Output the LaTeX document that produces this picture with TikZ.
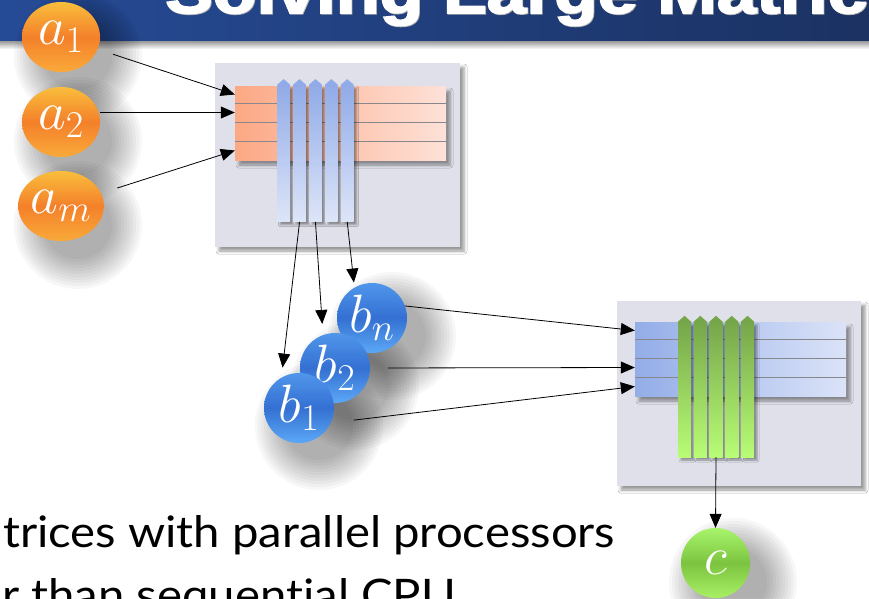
\RequirePackage{fix-cm}
\documentclass[tikz,border=0pt]{standalone}
\usepackage{fontspec}
\usepackage{graphicx}
\usetikzlibrary{shapes.geometric,shadows.blur,arrows.meta,calc}
\newfontfamily\titlefont{Liberation Sans}[FakeBold=2.5]
\newfontfamily\bodyfont{Lato}[Ligatures=NoCommon]
\definecolor{barL}{RGB}{38,75,150}
\definecolor{barR}{RGB}{27,50,98}
\definecolor{panelC}{RGB}{224,224,234}
\definecolor{orL}{RGB}{252,168,132}
\definecolor{orR}{RGB}{253,225,216}
\definecolor{blT}{RGB}{145,171,232}
\definecolor{blB}{RGB}{221,229,248}
\definecolor{blL}{RGB}{147,173,232}
\definecolor{blR}{RGB}{219,227,248}
\definecolor{grT}{RGB}{118,166,74}
\definecolor{grB}{RGB}{184,253,117}
\definecolor{sepC}{RGB}{135,135,140}
\definecolor{oTop}{RGB}{249,190,60}
\definecolor{oMid}{RGB}{244,128,42}
\definecolor{oBot}{RGB}{249,170,58}
\definecolor{bTop}{RGB}{80,150,235}
\definecolor{bMid}{RGB}{52,112,210}
\definecolor{bBot}{RGB}{92,168,246}
\definecolor{gTop}{RGB}{168,245,108}
\definecolor{gMid}{RGB}{124,196,64}
\definecolor{gBot}{RGB}{168,240,100}
\newlength\Lw \newlength\Lh \newlength\Tw
\settowidth\Lw{\bodyfont\fontsize{40}{48}\selectfont trices with parallel processors}
\settoheight\Lh{\bodyfont\fontsize{40}{48}\selectfont l}
\settowidth\Tw{\titlefont\bfseries\fontsize{60}{60}\selectfont Solving Large\ }
\pgfmathsetmacro\bxs{612/\Lw}
\pgfmathsetmacro\bys{32/\Lh}
\pgfmathsetmacro\txs{492/\Tw}
\begin{document}
\begin{tikzpicture}[x=1pt,y=-1pt,
  arr/.style={-{Triangle[length=14pt,width=12pt]}, line width=0.8pt, black},
  panel/.style={rectangle, inner sep=0pt, fill=panelC,
    blur shadow={shadow xshift=4pt, shadow yshift=-4pt, shadow blur radius=3pt}},
  rowblock/.style={rectangle, inner sep=0pt, minimum width=211pt, minimum height=74pt,
    blur shadow={shadow xshift=4pt, shadow yshift=-5pt, shadow blur radius=3pt}},
  rowbox/.style={rectangle, inner sep=0pt, minimum width=211pt},
  sep/.style={draw=sepC, line width=0.9pt},
  colbox/.style={rectangle, inner sep=0pt, minimum width=12.7pt,
    blur shadow={shadow xshift=3pt, shadow yshift=-3pt, shadow blur radius=2pt}},
  softsh/.style={fill=black, fill opacity=0.03},
  ball/.style={inner sep=0pt, text=white, font=\fontsize{54}{54}\selectfont},
  oball/.style={ball, ellipse, minimum width=78pt, minimum height=70pt,
    top color=oTop, bottom color=oBot, middle color=oMid},
  bball/.style={ball, circle, minimum size=70pt,
    top color=bTop, bottom color=bBot, middle color=bMid},
  gball/.style={ball, ellipse, minimum width=69pt, minimum height=70pt,
    top color=gTop, bottom color=gBot, middle color=gMid},
  bodytext/.style={anchor=base west, inner sep=0pt, text=black},
  titletext/.style={anchor=base west, inner sep=0pt},
]
\clip (0,0) rectangle (869,598);
\fill[white] (0,0) rectangle (869,598);

% title bar
\shade[left color=barL, right color=barR] (0,0) rectangle (869,41);
\shade[top color=black!40, bottom color=white] (0,41) rectangle (869,49);
\node[titletext, text=black!30] (tshadow) at (165.8,13.8)
  {\scalebox{\txs}[1]{\titlefont\bfseries\fontsize{60}{60}\selectfont Solving Large Matrices}};
\node[titletext, text=white] (title) at (165,13)
  {\scalebox{\txs}[1]{\titlefont\bfseries\fontsize{60}{60}\selectfont Solving Large Matrices}};

% bottom text
\node[bodytext] (t1) at (3,547)
  {\scalebox{\bxs}[\bys]{\bodyfont\fontsize{40}{48}\selectfont trices with parallel processors}};
\node[bodytext] (t2) at (2,610)
  {\scalebox{\bxs}[\bys]{\bodyfont\fontsize{40}{48}\selectfont r than sequential CPU}};

% upper panel
\node[panel, minimum width=245pt, minimum height=184pt] (P1) at (337.5,155) {};
\node[rowblock, left color=orL, right color=orR] (R1) at (340.5,123) {};
\node[rowbox, minimum height=17pt] (r1) at (340.5,94.5) {};
\node[rowbox, minimum height=19pt] (r2) at (340.5,112.5) {};
\node[rowbox, minimum height=19pt] (r3) at (340.5,131.5) {};
\node[rowbox, minimum height=19pt] (r4) at (340.5,150.5) {};
\draw[sep] (r1.south west) -- (r1.south east);
\draw[sep] (r2.south west) -- (r2.south east);
\draw[sep] (r3.south west) -- (r3.south east);
\foreach \i/\x in {1/283.65,2/299.55,3/315.45,4/331.35,5/347.25}{
  \node[colbox, minimum height=136.7pt, top color=blT, bottom color=blB] (u\i) at (\x,153.35) {};
  \fill[blT] (u\i.north west) -- ($(u\i.north)+(0,-5.7)$) -- (u\i.north east) -- cycle;
}

% lower panel
\node[panel, minimum width=244pt, minimum height=185pt] (P2) at (739,393.5) {};
\node[rowblock, left color=blL, right color=blR] (R2) at (740.5,359) {};
\node[rowbox, minimum height=17pt] (s1) at (740.5,330.5) {};
\node[rowbox, minimum height=19pt] (s2) at (740.5,348.5) {};
\node[rowbox, minimum height=19pt] (s3) at (740.5,367.5) {};
\node[rowbox, minimum height=19pt] (s4) at (740.5,386.5) {};
\draw[sep] (s1.south west) -- (s1.south east);
\draw[sep] (s2.south west) -- (s2.south east);
\draw[sep] (s3.south west) -- (s3.south east);
\foreach \i/\x in {1/684.5,2/700.25,3/716,4/731.75,5/747.5}{
  \node[colbox, minimum width=13pt, minimum height=135pt, top color=grT, bottom color=grB] (g\i) at (\x,389.5) {};
  \fill[grT] (g\i.north west) -- ($(g\i.north)+(0,-6)$) -- (g\i.north east) -- cycle;
}

% soft shadows of the balls
\foreach \cx/\cy in {78/56, 78/141, 78/225, 392/336, 355/386, 319/426, 733/582}{
  \foreach \r in {34,37,...,64}{
    \path[softsh] (\cx,\cy) circle (\r);
  }
}

% balls
\node[oball] (a1) at (61,37) {$a_1$};
\node[oball] (a2) at (61,122) {$a_2$};
\node[oball] (am) at (61,206) {$a_m$};
\node[bball] (bn) at (372,318) {$b_n$};
\node[bball] (b2) at (335,368) {$b_2$};
\node[bball] (b1) at (299,408) {$b_1$};
\node[gball] (c) at (715.5,563) {$c$};

% connectors
\draw[arr, shorten <=16pt] (a1) -- (r1.west);
\draw[arr] (a2.east |- r2.west) -- (r2.west);
\draw[arr, shorten <=17pt] (am) -- (r4.west);
\draw[arr, shorten >=10pt] (u2.south) -- (b1.120);
\draw[arr, shorten >=11pt] (u3.south) -- (b2.110);
\draw[arr, shorten >=5pt] (u5.south) -- (bn.120);
\draw[arr] (bn.20) -- (s1.west);
\draw[arr, shorten <=18pt] (b2.east) -- (s3.west);
\draw[arr, shorten <=23pt] (b1.-25) -- (s4.west);
\draw[arr] (g3.south) -- (c.north);
\end{tikzpicture}
\end{document}
